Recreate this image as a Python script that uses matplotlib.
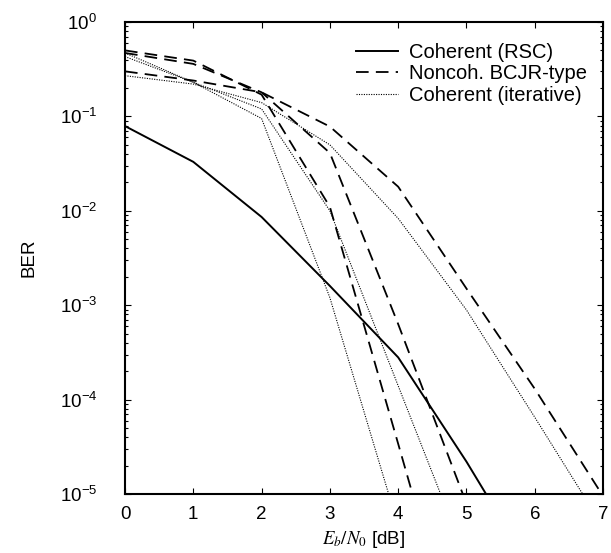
import numpy as np
import matplotlib
matplotlib.use('Agg')
from matplotlib import pyplot as plt

plt.rcParams.update({'font.size': 13.5, 'font.family': ['Liberation Sans', 'DejaVu Sans'],
                     'mathtext.fontset': 'stix'})

ebno = [0, 1, 2, 3, 4, 5, 6, 7]

# coherent RSC
ber_rsc = [0.079, 0.033, 0.0086, 1.6e-3, 2.8e-4, 2.2e-5, 1.4e-6, 1e-7]

# noncoherent BCJR-type (three cases)
ber_nc_a = [0.50, 0.39, 0.17, 0.011, 3.4e-5, 1e-7]
ber_nc_b = [0.47, 0.36, 0.18, 0.041, 6.3e-4, 7.9e-6]
ber_nc_c = [0.30, 0.24, 0.18, 0.078, 0.018, 1.5e-3, 1.3e-4, 9.5e-6]

# coherent iterative (three cases)
ber_it_a = [0.47, 0.23, 0.095, 1.2e-3, 4.6e-6]
ber_it_b = [0.43, 0.23, 0.12, 0.010, 1.4e-4, 2e-6]
ber_it_c = [0.27, 0.22, 0.14, 0.05, 0.0083, 8.9e-4, 6.5e-5, 4.5e-6]

fig = plt.figure(figsize=(6.11, 5.53), dpi=100)
ax = fig.add_axes([0.2046, 0.1067, 0.7824, 0.8535])

ax.semilogy(ebno[:len(ber_rsc)], ber_rsc, 'k-', lw=1.4, label='Coherent (RSC)')
dash = (0, (7, 4))
ax.semilogy(ebno[:len(ber_nc_a)], ber_nc_a, color='k', ls=dash, lw=1.3, label='Noncoh. BCJR-type')
ax.semilogy(ebno[:len(ber_nc_b)], ber_nc_b, color='k', ls=dash, lw=1.3)
ax.semilogy(ebno[:len(ber_nc_c)], ber_nc_c, color='k', ls=dash, lw=1.3)
dot = (0, (1, 1.2))
ax.semilogy(ebno[:len(ber_it_a)], ber_it_a, color='k', ls=dot, lw=0.8, label='Coherent (iterative)')
ax.semilogy(ebno[:len(ber_it_b)], ber_it_b, color='k', ls=dot, lw=0.8)
ax.semilogy(ebno[:len(ber_it_c)], ber_it_c, color='k', ls=dot, lw=0.8)

ax.set_xlim(0, 7)
ax.set_ylim(1e-5, 1)
ax.set_xticks(ebno)
ax.tick_params(which='both', direction='in', top=True, right=True, width=0.8)
ax.tick_params(which='major', length=4)
ax.tick_params(axis='x', which='major', pad=9)
ax.tick_params(axis='y', which='major', pad=20)
ax.tick_params(which='minor', length=2)
for s in ax.spines.values():
    s.set_linewidth(1.5)

ax.set_xlabel(r'$E_b/N_0$ [dB]', labelpad=4)
ax.set_ylabel('BER', labelpad=16)

ax.legend(loc='upper right', frameon=False, fontsize=14.5, handlelength=2.1,
          handletextpad=0.55, borderaxespad=0.4, labelspacing=0.12,
          bbox_to_anchor=(1.0, 0.99))

plt.savefig('out.png', dpi=100)
